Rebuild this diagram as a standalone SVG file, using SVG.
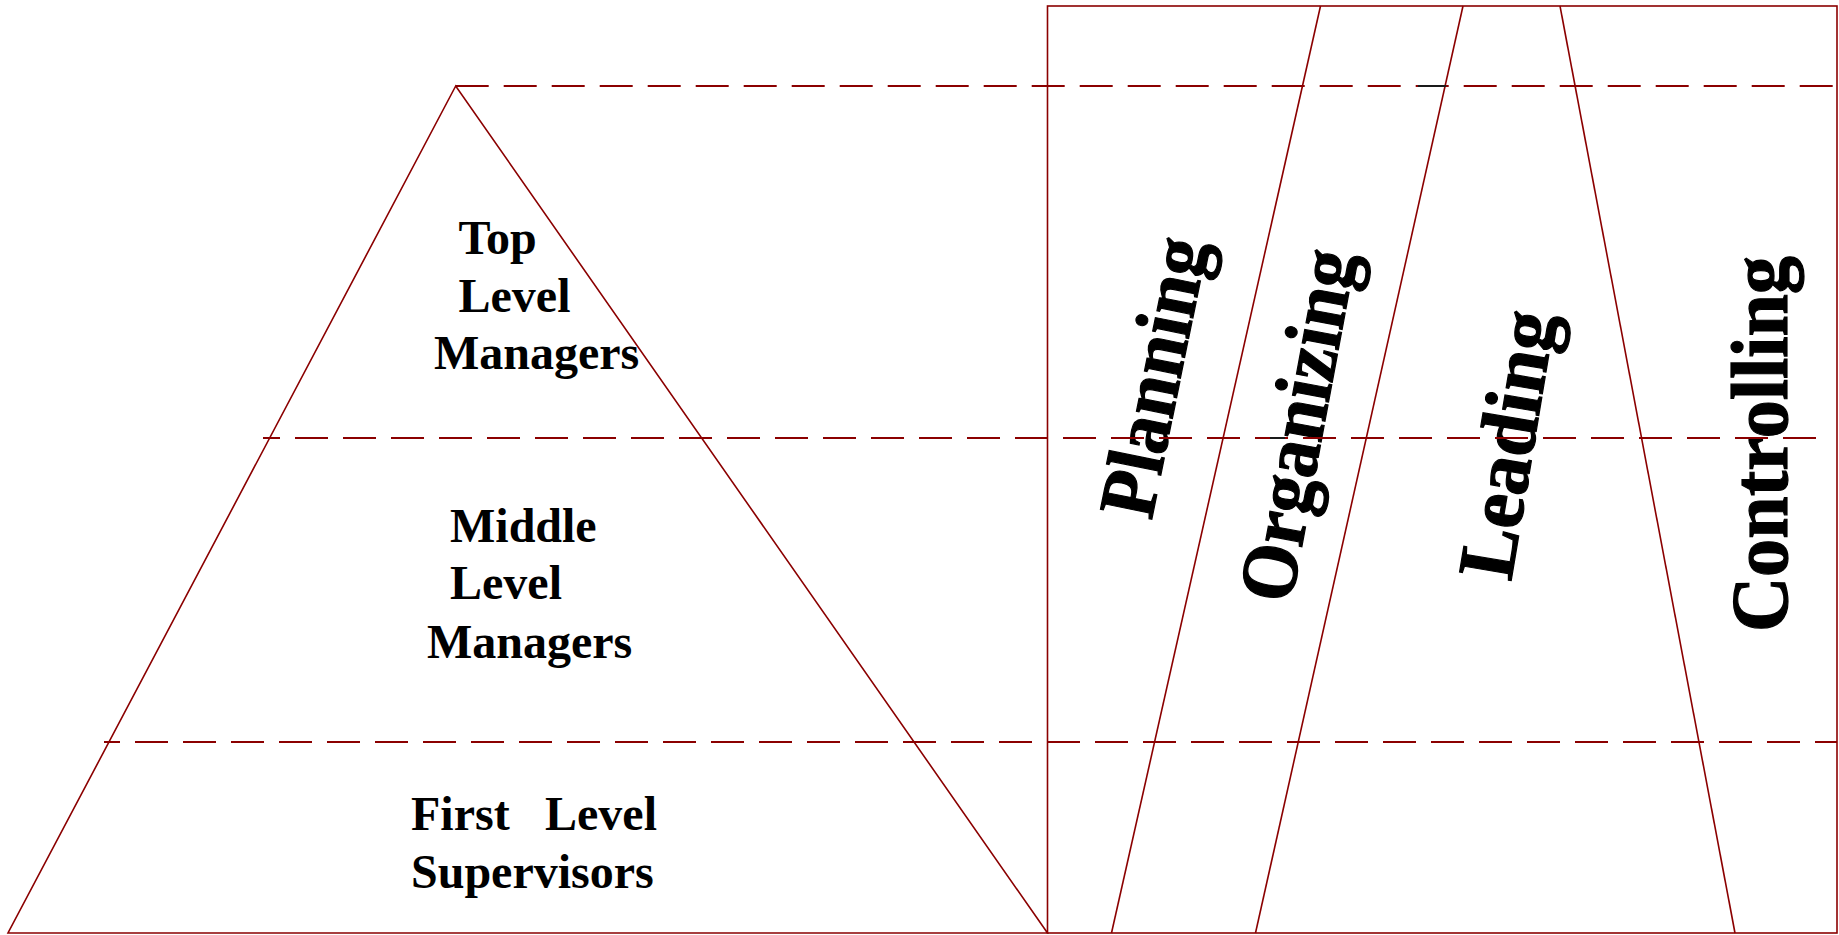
<svg xmlns="http://www.w3.org/2000/svg" width="1839" height="935" viewBox="0 0 1839 935">
<style>
.lbl{font-family:"Liberation Serif","Times New Roman",serif;font-weight:bold;font-size:48px;fill:#000}
.fn{font-family:"Liberation Serif","Times New Roman",serif;font-weight:bold;font-size:80px;fill:#000;stroke:#000;stroke-width:1.2}
.solid{fill:none;stroke:#8b0000;stroke-width:1.6}
.dash{fill:none;stroke:#8b0000;stroke-width:2.2;stroke-dasharray:33 15}
</style>
<rect x="0" y="0" width="1839" height="935" fill="#fff"/>
<g id="levels">
  <g id="top-level">
    <text class="lbl" x="458.5" y="254">Top</text>
    <text class="lbl" x="458.5" y="311.7">Level</text>
    <text class="lbl" x="434" y="369">Managers</text>
  </g>
  <g id="middle-level">
    <text class="lbl" x="450" y="541.7">Middle</text>
    <text class="lbl" x="450" y="599.3">Level</text>
    <text class="lbl" x="427" y="657.7">Managers</text>
  </g>
  <g id="first-level">
    <text class="lbl" y="830"><tspan x="411">First</tspan><tspan x="545">Level</tspan></text>
    <text class="lbl" x="411" y="887.7">Supervisors</text>
  </g>
</g>
<g id="functions">
  <g id="planning"><text class="fn" transform="translate(1151.5,521) rotate(-78.5)" textLength="283" lengthAdjust="spacingAndGlyphs">Planning</text></g>
  <g id="organizing"><text class="fn" transform="translate(1291,605) rotate(-79.5)" textLength="356" lengthAdjust="spacingAndGlyphs">Organizing</text></g>
  <g id="leading"><text class="fn" transform="translate(1511,582) rotate(-80.5)" textLength="270" lengthAdjust="spacingAndGlyphs">Leading</text></g>
  <g id="controlling"><text class="fn" transform="translate(1787,632) rotate(-90)" textLength="376" lengthAdjust="spacingAndGlyphs">Controlling</text></g>
</g>
<g id="connectors">
  <polygon class="solid" points="455.7,86 8,933 1047.5,933"/>
  <rect class="solid" x="1047.5" y="6" width="789.5" height="927"/>
  <line class="solid" x1="1320.5" y1="6" x2="1111.5" y2="933"/>
  <line class="solid" x1="1463" y1="6" x2="1255.5" y2="933"/>
  <line class="solid" x1="1560" y1="6" x2="1735" y2="933"/>
  <line class="dash" x1="455.7" y1="86" x2="1837" y2="86"/>
  <line class="dash" x1="263" y1="438" x2="1819" y2="438" stroke-dashoffset="16"/>
  <line class="dash" x1="104" y1="742" x2="1837" y2="742" stroke-dashoffset="17"/>
  <line x1="1418" y1="86" x2="1446" y2="86" stroke="#1a1a1a" stroke-width="2"/>
  <line x1="1270" y1="438" x2="1285" y2="438" stroke="#1a1a1a" stroke-width="2"/>
</g>
</svg>
